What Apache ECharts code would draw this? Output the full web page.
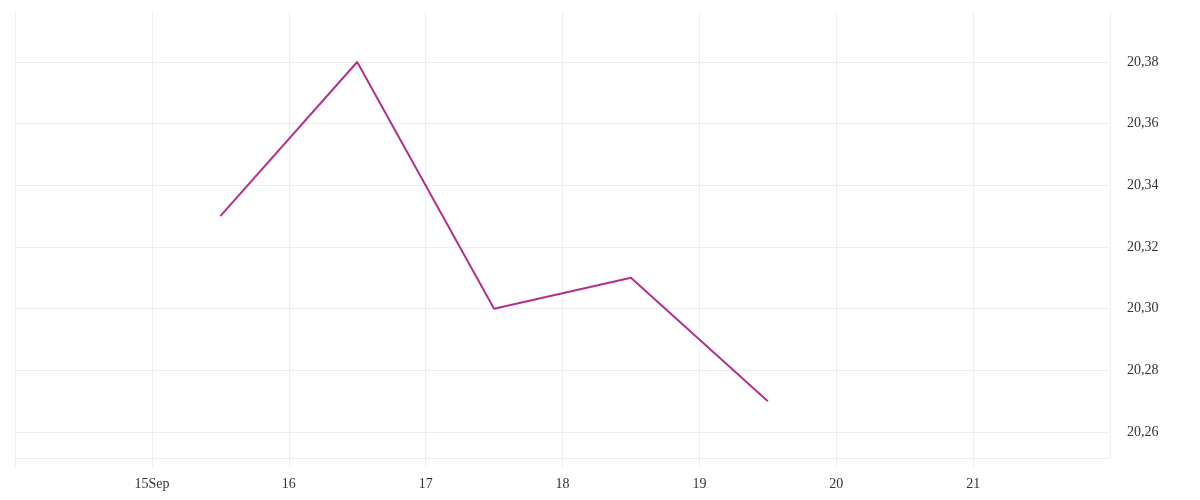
<!DOCTYPE html>
<html><head><meta charset="utf-8">
<script src="https://cdn.jsdelivr.net/npm/echarts@6/dist/echarts.min.js"></script>
<style>html,body{margin:0;padding:0;background:#fff}#c{width:1200px;height:500px}</style>
</head><body><div id="c"></div>
<script>
var dates = ['2023-09-15 12:00','2023-09-16 12:00','2023-09-17 12:00','2023-09-18 12:00','2023-09-19 12:00'];
var values = [20.33, 20.38, 20.30, 20.31, 20.27];
var xMin = '2023-09-14 00:00', xMax = '2023-09-22 00:00';
var yMin = 20.26, yMax = 20.38, yStep = 0.02;
function ts(s){var p=s.split(/[- :]/);return new Date(+p[0],p[1]-1,+p[2],+p[3],+p[4]).getTime();}
var chart = echarts.init(document.getElementById('c'));
var font = '"Liberation Serif", "DejaVu Serif", serif';
var DAY = 86400000;
chart.setOption({
  animation:false,
  grid:[
    {left:15,right:90,top:12,bottom:42},
    {left:15,right:90,top:62,bottom:68}
  ],
  xAxis:[
    {type:'time',gridIndex:0,min:ts(xMin),max:ts(xMax),interval:DAY,minInterval:DAY,maxInterval:DAY,
      axisLine:{show:true,lineStyle:{color:'#eeeeee',width:1}},
      axisTick:{show:true,length:9,lineStyle:{color:'#eeeeee'}},
      splitLine:{show:true,lineStyle:{color:'#eeeeee'}},
      axisLabel:{color:'#333',fontFamily:font,fontSize:14,margin:19,
        formatter:function(v){var d=new Date(v);var n=d.getDate();
          if(d.getHours()!==0||n===14||n===22)return '';return n===15?'15Sep':String(n);}}},
    {type:'time',gridIndex:1,min:ts(xMin),max:ts(xMax),show:false}
  ],
  yAxis:[
    {type:'value',gridIndex:0,min:0,max:1,show:false,splitLine:{show:false}},
    {type:'value',gridIndex:1,position:'right',min:yMin,max:yMax,interval:yStep,
      axisLine:{show:false},axisTick:{show:false},
      splitLine:{show:true,lineStyle:{color:'#eeeeee'}},
      axisLabel:{color:'#333',fontFamily:font,fontSize:14,margin:17,
        formatter:function(v){return (Math.round(v*100)/100).toFixed(2).replace('.',',');}}}
  ],
  series:[{type:'line',xAxisIndex:1,yAxisIndex:1,clip:false,
    data:dates.map(function(d,i){return [ts(d),values[i]];}),
    symbol:'none',lineStyle:{color:'#b3318a',width:2},itemStyle:{color:'#b3318a'}}]
});
</script></body></html>
